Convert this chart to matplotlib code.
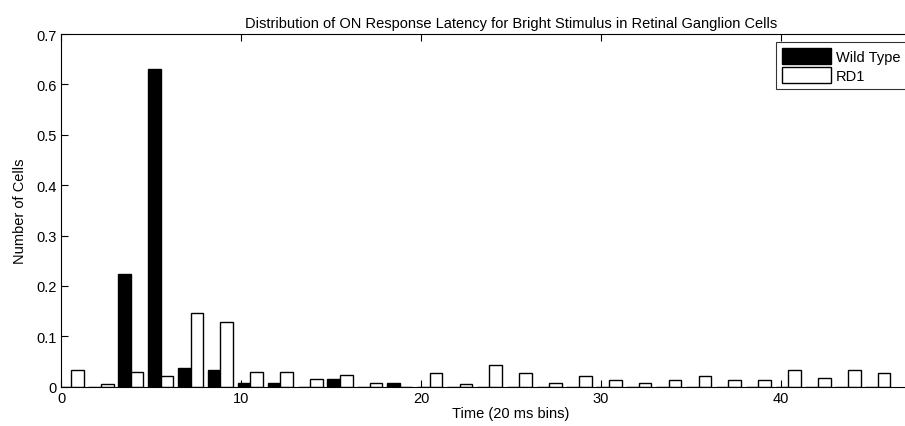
import numpy as np
import matplotlib.pyplot as plt

plt.rcParams['font.family'] = ['Liberation Sans', 'DejaVu Sans']

# 28 latency bins, bin width ~1.66 in units of 20 ms bins
bin_centers = 0.56 + 1.66 * np.arange(28)

wild_type = [0.0, 0.0, 0.224, 0.631, 0.037, 0.033, 0.007, 0.007, 0.0, 0.015,
             0.0, 0.008, 0.0, 0.0, 0.0, 0.0, 0.0, 0.0, 0.0, 0.0,
             0.0, 0.0, 0.0, 0.0, 0.0, 0.0, 0.0, 0.0]
rd1 = [0.034, 0.005, 0.030, 0.021, 0.147, 0.129, 0.030, 0.030, 0.015, 0.023,
       0.008, 0.0, 0.028, 0.006, 0.044, 0.028, 0.008, 0.021, 0.014, 0.008,
       0.014, 0.021, 0.014, 0.014, 0.034, 0.018, 0.034, 0.028]

fs = 10.5

fig = plt.figure(figsize=(9.05, 4.27), dpi=100)
ax = fig.add_axes([61/905, 0.092, 900/905, 0.826])

w = 0.70
ax.bar(bin_centers - w/2, wild_type, width=w, color='black', edgecolor='black',
       linewidth=1, label='Wild Type')
ax.bar(bin_centers + w/2, rd1, width=w, color='white', edgecolor='black',
       linewidth=1, label='RD1')

ax.set_xlim(0, 50)
ax.set_ylim(0, 0.7)
ax.set_xticks([0, 10, 20, 30, 40])
ax.set_yticks(np.arange(0, 0.71, 0.1))
ax.set_yticklabels(['0', '0.1', '0.2', '0.3', '0.4', '0.5', '0.6', '0.7'])
ax.tick_params(direction='in', top=True, right=True, length=5, labelsize=fs,
               width=0.8, pad=3)
for s in ax.spines.values():
    s.set_linewidth(0.8)

ax.set_title('Distribution of ON Response Latency for Bright Stimulus in Retinal Ganglion Cells',
             fontsize=fs, pad=5)
ax.set_xlabel('Time (20 ms bins)', fontsize=fs, labelpad=1)
ax.set_ylabel('Number of Cells', fontsize=fs, labelpad=7)

leg = ax.legend(loc='upper left', fontsize=fs, frameon=True,
                fancybox=False, edgecolor='black', handlelength=3.4,
                handleheight=1.35, borderpad=0.4, labelspacing=0.2,
                handletextpad=0.3, borderaxespad=0)
leg.get_frame().set_linewidth(0.8)
leg.set_bbox_to_anchor((776/905, 1 - 43/427), transform=fig.transFigure)

fig.savefig('out.png', dpi=100)
